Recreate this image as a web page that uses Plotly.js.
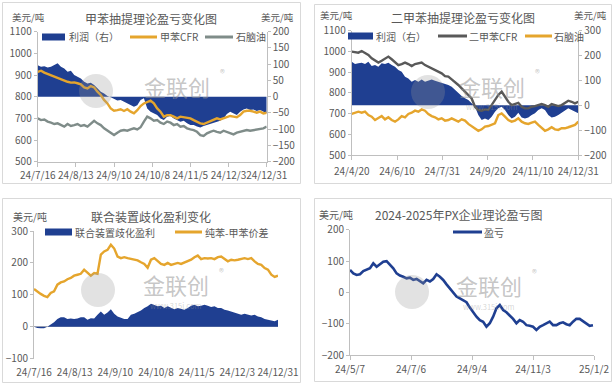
<!DOCTYPE html>
<html><head><meta charset="utf-8">
<script src="https://cdn.plot.ly/plotly-3.0.1.min.js"></script>
<style>html,body{margin:0;padding:0;background:#fff;}#chart{width:613px;height:384px;}</style>
</head><body><div id="chart"></div>
<script>
// ---------- Panel 1: 甲苯抽提理论盈亏变化图 ----------
const p1Start = '2024-07-16', p1End = '2024-12-31';
const p1TickVals = ['2024-07-16','2024-08-13','2024-09-10','2024-10-08','2024-11-05','2024-12-03','2024-12-31'];
const p1TickText = ['24/7/16','24/8/13','24/9/10','24/10/8','24/11/5','24/12/3','24/12/31'];
const p1Profit = [97,92,94,90,92,97,103,92,87,77,80,67,62,56,46,41,43,36,26,15,10,2,-2,-8,-12,-10,-15,-21,-26,-31,-26,-10,-5,-36,-46,-51,-56,-67,-72,-62,-59,-67,-72,-77,-74,-82,-87,-87,-92,-95,-90,-87,-82,-79,-77,-74,-67,-53,-46,-51,-56,-46,-39,-36,-41,-39,-44,-41,-46,-51];
const p1Toluene = [915,920,911,905,900,892,885,880,874,869,865,866,862,857,843,838,849,843,823,808,785,769,746,735,738,742,734,742,731,723,738,757,769,777,782,769,746,731,708,715,715,708,700,708,705,703,700,692,685,677,674,680,689,695,700,695,700,708,711,708,705,715,731,735,735,731,726,731,723,726];
const p1Naphtha = [700,692,695,685,680,674,677,669,662,674,665,669,674,665,669,662,674,689,677,669,654,643,631,623,634,643,646,643,649,654,649,659,685,708,700,689,692,680,674,685,680,669,674,662,665,654,649,646,638,623,619,631,638,643,638,634,643,638,634,626,634,638,643,646,643,646,649,649,654,662];

// ---------- Panel 2: 二甲苯抽提理论盈亏变化图 ----------
const p2Start = '2024-04-20', p2End = '2024-12-31';
const p2TickVals = ['2024-04-20','2024-06-10','2024-07-31','2024-09-20','2024-11-10','2024-12-31'];
const p2TickText = ['24/4/20','24/6/10','24/7/31','24/9/20','24/11/10','24/12/31'];
const p2Profit = [175,166,169,171,166,175,158,162,155,169,166,171,162,155,142,135,115,108,95,102,95,104,95,99,104,99,95,91,88,82,75,61,48,37,28,21,8,-6,-39,-59,-53,-59,-46,-26,-12,-6,-19,-39,-53,-46,-30,-49,-53,-49,-39,-32,-19,-12,-19,-39,-49,-46,-39,-30,-19,-12,-19,-26,-32];
const p2Xylene = [999,995,994,1002,991,983,967,958,946,955,967,975,962,946,934,939,946,939,929,939,942,946,934,926,918,913,902,894,881,878,865,849,838,822,806,790,773,733,717,714,720,717,741,765,790,806,781,757,741,746,752,733,725,725,733,736,741,746,741,733,746,741,736,741,752,762,757,749,757];
const p2Naphtha = [698,704,709,704,709,693,685,669,677,688,672,682,669,661,672,688,682,698,704,714,709,720,714,698,688,682,672,677,666,669,677,669,661,672,666,650,640,629,617,624,637,640,645,653,693,701,685,669,661,666,677,661,653,650,656,661,645,629,617,624,634,624,621,629,629,634,640,645,661];

// ---------- Panel 3: 联合装置歧化盈利变化 ----------
const p3Start = '2024-07-16', p3End = '2024-12-31';
const p3TickVals = p1TickVals;
const p3TickText = p1TickText;
const p3Profit = [0,-4,-5,-5,0,7,14,24,30,30,24,26,24,26,30,30,22,27,26,38,48,38,45,55,41,32,27,24,24,38,41,45,51,59,64,72,69,64,66,59,64,59,55,59,55,53,59,66,69,64,66,69,66,62,64,59,59,53,51,48,45,41,38,41,38,35,38,32,30,24,22,20,17,22];
const p3Spread = [118,110,103,97,93,106,111,132,139,142,149,153,160,163,166,179,168,160,168,166,226,236,241,257,245,220,215,218,215,212,210,208,202,197,185,210,215,205,197,194,200,194,197,200,197,202,205,210,218,223,212,215,214,215,212,218,220,212,205,210,208,210,212,215,212,215,205,197,194,184,179,163,156,160];

// ---------- Panel 4: 2024-2025年PX企业理论盈亏图 ----------
const p4Start = '2024-05-07', p4End = '2025-01-01';
const p4TickVals = ['2024-05-07','2024-07-06','2024-09-04','2024-11-03','2025-01-02'];
const p4TickText = ['24/5/7','24/7/6','24/9/4','24/11/3','25/1/2'];
const p4Profit = [72,61,56,58,68,72,77,93,82,90,98,100,88,77,61,54,50,45,47,40,43,35,29,40,35,43,58,50,40,26,13,0,-13,-19,-24,-31,-48,-63,-77,-88,-93,-109,-98,-77,-50,-40,-56,-63,-72,-84,-98,-88,-93,-104,-106,-109,-119,-109,-104,-98,-93,-104,-104,-98,-95,-101,-104,-93,-84,-84,-91,-98,-106,-104];

// ---------- helpers ----------
const W = 613, H = 384;
const fx = p => p / W, fy = p => 1 - p / H;
function spread(start, end, n) {
  const a = Date.parse(start + 'T00:00:00Z'), b = Date.parse(end + 'T00:00:00Z');
  const out = [];
  for (let i = 0; i < n; i++) out.push(new Date(a + (b - a) * i / (n - 1)).toISOString().slice(0, 19).replace('T', ' '));
  return out;
}
const FONT = '"Noto Sans CJK SC", "Microsoft YaHei", sans-serif';
const TXT = '#595959', AXC = '#bfbfbf', BOX = '#d9d9d9';
const BLUE = '#1F3F91', GOLD = '#E5A52D', GRAY1 = '#7F8C89', DGRAY = '#595959';
const WM = 'rgba(150,150,150,0.55)';

const traces = [
  {x: spread(p1Start, p1End, p1Profit.length), y: p1Profit, xaxis: 'x', yaxis: 'y', type: 'scatter', mode: 'lines', line: {width: 0, color: BLUE}, fill: 'tozeroy', fillcolor: BLUE},
  {x: spread(p1Start, p1End, p1Toluene.length), y: p1Toluene, xaxis: 'x', yaxis: 'y2', type: 'scatter', mode: 'lines', line: {width: 2.4, color: GOLD}},
  {x: spread(p1Start, p1End, p1Naphtha.length), y: p1Naphtha, xaxis: 'x', yaxis: 'y2', type: 'scatter', mode: 'lines', line: {width: 2.4, color: GRAY1}},
  {x: spread(p2Start, p2End, p2Profit.length), y: p2Profit, xaxis: 'x2', yaxis: 'y3', type: 'scatter', mode: 'lines', line: {width: 0, color: BLUE}, fill: 'tozeroy', fillcolor: BLUE},
  {x: spread(p2Start, p2End, p2Xylene.length), y: p2Xylene, xaxis: 'x2', yaxis: 'y4', type: 'scatter', mode: 'lines', line: {width: 2.4, color: DGRAY}},
  {x: spread(p2Start, p2End, p2Naphtha.length), y: p2Naphtha, xaxis: 'x2', yaxis: 'y4', type: 'scatter', mode: 'lines', line: {width: 2.4, color: GOLD}},
  {x: spread(p3Start, p3End, p3Profit.length), y: p3Profit, xaxis: 'x3', yaxis: 'y5', type: 'scatter', mode: 'lines', line: {width: 0, color: BLUE}, fill: 'tozeroy', fillcolor: BLUE},
  {x: spread(p3Start, p3End, p3Spread.length), y: p3Spread, xaxis: 'x3', yaxis: 'y5', type: 'scatter', mode: 'lines', line: {width: 2.4, color: GOLD}},
  {x: spread(p4Start, p4End, p4Profit.length), y: p4Profit, xaxis: 'x4', yaxis: 'y6', type: 'scatter', mode: 'lines', line: {width: 2.6, color: BLUE}}
];
traces.forEach(t => { t.showlegend = false; t.hoverinfo = 'skip'; });

const tf = {family: FONT, size: 10, color: TXT};
function xax(dom, anchor, range, tv, tt, line, standoff) {
  return {domain: dom, anchor: anchor, type: 'date', range: range, tickmode: 'array', tickvals: tv, ticktext: tt,
    tickangle: 0, showgrid: false, zeroline: false, showline: line, linecolor: AXC, linewidth: 1,
    ticks: line ? 'outside' : '', ticklen: 4, tickcolor: AXC, tickfont: tf, fixedrange: true,
    ticklabelstandoff: standoff || 0};
}
function yax(extra) {
  return Object.assign({showgrid: false, zeroline: false, showline: true, linecolor: AXC, linewidth: 1,
    ticks: 'outside', ticklen: 3, tickcolor: AXC, tickfont: tf, fixedrange: true}, extra);
}

const layout = {
  width: W, height: H, margin: {l: 0, r: 0, t: 0, b: 0}, paper_bgcolor: '#fff', plot_bgcolor: 'rgba(0,0,0,0)',
  font: {family: FONT, color: TXT}, showlegend: false,
  xaxis: xax([fx(37.7), fx(266.7)], 'y', [p1Start, p1End], p1TickVals, p1TickText, true, 0),
  yaxis: yax({domain: [fy(161.7), fy(31.7)], anchor: 'x', side: 'right', range: [-200, 200], dtick: 50, tick0: 0}),
  yaxis2: yax({overlaying: 'y', anchor: 'x', side: 'left', range: [500, 1100], dtick: 100, tick0: 500}),
  xaxis2: xax([fx(351.7), fx(578.3)], 'y3', [p2Start, p2End], p2TickVals, p2TickText, true, 3),
  yaxis3: yax({domain: [fy(155), fy(30.7)], anchor: 'x2', side: 'right', range: [-200, 300], dtick: 100, tick0: 0}),
  yaxis4: yax({overlaying: 'y3', anchor: 'x2', side: 'left', range: [500, 1100], dtick: 100, tick0: 500}),
  xaxis3: xax([fx(34), fx(278)], 'y5', [p3Start, p3End], p3TickVals, p3TickText, false, 6),
  yaxis5: yax({domain: [fy(358.7), fy(231)], anchor: 'x3', side: 'left', range: [-100, 300], dtick: 100, tick0: 0,
    zeroline: true, zerolinecolor: AXC, zerolinewidth: 1}),
  xaxis4: xax([fx(350), fx(594)], 'y6', ['2024-05-07', '2025-01-02'], p4TickVals, p4TickText, true, 1),
  yaxis6: yax({domain: [fy(355.3), fy(229.7)], anchor: 'x4', side: 'left', range: [-200, 200], dtick: 100, tick0: 0}),
  shapes: [], annotations: []
};

const S = layout.shapes, A = layout.annotations;
function box(x0, y0, x1, y1) { S.push({type: 'rect', xref: 'paper', yref: 'paper', x0: fx(x0), x1: fx(x1), y0: fy(y1), y1: fy(y0), line: {color: BOX, width: 1}, fillcolor: 'rgba(0,0,0,0)', layer: 'below'}); }
function txt(t, x, y, size, anchor, color) { A.push({text: t, xref: 'paper', yref: 'paper', x: fx(x), y: fy(y), xanchor: anchor || 'center', yanchor: 'middle', showarrow: false, borderpad: 0, font: {family: FONT, size: size, color: color || TXT}}); }
function legRect(x0, x1, y, c) { S.push({type: 'rect', xref: 'paper', yref: 'paper', x0: fx(x0), x1: fx(x1), y0: fy(y + 3.5), y1: fy(y - 3.5), line: {width: 0}, fillcolor: c}); }
function legLine(x0, x1, y, c) { S.push({type: 'line', xref: 'paper', yref: 'paper', x0: fx(x0), x1: fx(x1), y0: fy(y), y1: fy(y), line: {color: c, width: 3}}); }
function logo(cx, cy, r) { S.push({type: 'circle', xref: 'paper', yref: 'paper', x0: fx(cx - r), x1: fx(cx + r), y0: fy(cy + r), y1: fy(cy - r), line: {width: 0}, fillcolor: 'rgba(150,150,150,0.28)'}); }
function watermark(lx, ly, tx, ty, www) {
  logo(lx, ly, 17);
  txt('金联创', tx, ty, 22, 'center', WM);
  txt('®', tx + 45, ty - 13, 10, 'center', WM);
  if (www) txt('www.315i.com', tx, ty + 21, 7.5, 'center', 'rgba(150,150,150,0.4)');
}

// panel borders
box(2.5, 2.5, 300.5, 183.5);
box(314.5, 4.5, 611.5, 183.5);
box(2.5, 198.5, 300.5, 382.5);
box(314.5, 198.5, 611.5, 381.5);

// Panel 1 texts
txt('甲苯抽提理论盈亏变化图', 151, 18, 12);
txt('美元/吨', 28, 16.5, 9.5);
txt('美元/吨', 277, 16.5, 9.5);
legRect(42, 65, 37, BLUE); txt('利润（右）', 68, 37, 10, 'left');
legLine(130, 157, 37, GOLD); txt('甲苯CFR', 159, 37, 10, 'left');
legLine(205, 233, 37, GRAY1); txt('石脑油', 235, 37, 10, 'left');
watermark(96, 91, 177, 86, false);

// Panel 2 texts
txt('二甲苯抽提理论盈亏变化图', 463, 17, 12);
txt('美元/吨', 336, 15, 9.5);
txt('美元/吨', 590, 15, 9.5);
legRect(348, 373, 36, BLUE); txt('利润（右）', 375, 36, 10, 'left');
legLine(438, 467, 36, DGRAY); txt('二甲苯CFR', 468, 36, 10, 'left');
legLine(525, 552, 36, GOLD); txt('石脑油', 553, 36, 10, 'left');
watermark(428, 92, 492, 86, true);

// Panel 3 texts
txt('联合装置歧化盈利变化', 151, 216, 12);
txt('美元/吨', 30, 216, 10);
legRect(45, 72, 232, BLUE); txt('联合装置歧化盈利', 74, 232, 10, 'left');
legLine(175, 202, 232, GOLD); txt('纯苯-甲苯价差', 204, 232, 10, 'left');
watermark(98, 290, 176, 284, true);

// Panel 4 texts
txt('2024-2025年PX企业理论盈亏图', 459, 214, 12);
txt('美元/吨', 336, 214, 10);
legLine(453, 482, 232, BLUE); txt('盈亏', 483, 232, 10, 'left');
watermark(412, 292, 489, 285, true);

Plotly.newPlot('chart', traces, layout, {staticPlot: true, displayModeBar: false});
</script>
</body></html>
